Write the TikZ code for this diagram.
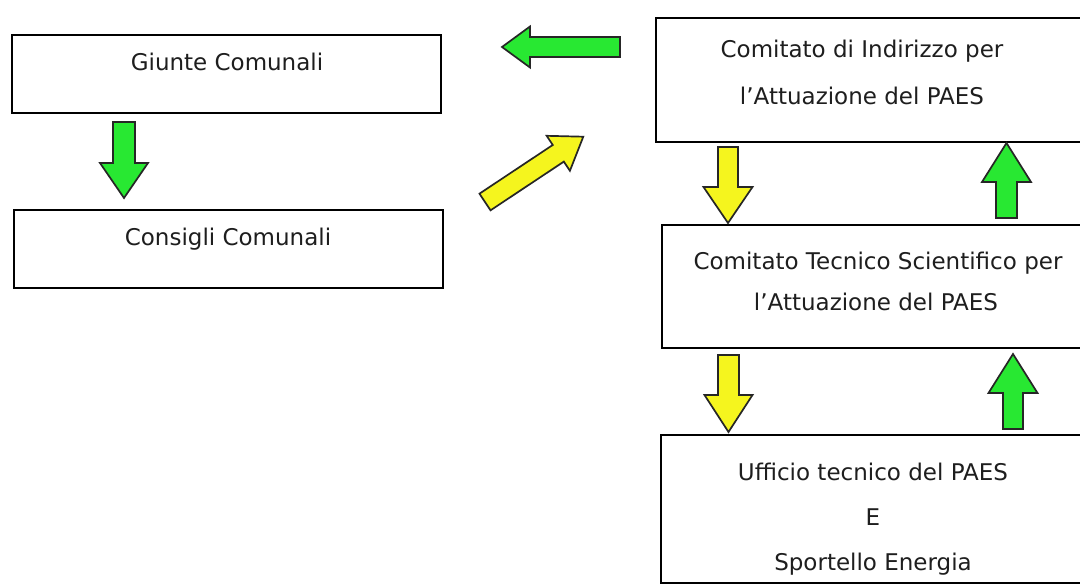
\documentclass[tikz,border=0pt]{standalone}
\usepackage{fontspec}
\setmainfont{DejaVu Sans}
\definecolor{arrgreen}{RGB}{40,232,50}
\definecolor{arryellow}{RGB}{245,245,30}
\definecolor{txtgray}{RGB}{30,30,30}
\tikzset{
  boxnode/.style={draw=black, line width=1.6pt, rectangle, inner sep=0pt, fill=white},
  lbl/.style={anchor=base, inner sep=0pt, text=txtgray, font=\fontsize{23}{27}\selectfont},
  arrowline/.style={draw=black!85, line width=1.7pt, line join=miter},
}
% \blkarrow{fill}{x}{y}{angle}{length}{shaft half width}{head half width}{head length}
\newcommand\blkarrow[8]{%
  \begin{scope}[shift={(#2,#3)}, rotate=#4]
    \filldraw[arrowline, fill=#1] (0,-#6) -- ({#5-#8},-#6) -- ({#5-#8},-#7) -- (#5,0)
      -- ({#5-#8},#7) -- ({#5-#8},#6) -- (0,#6) -- cycle;
  \end{scope}}
\begin{document}
\begin{tikzpicture}[x=1pt,y=-1pt]
\useasboundingbox (0,0) rectangle (1080,585);
\fill[white] (0,0) rectangle (1080,585);
\clip (0,0) rectangle (1080,585);

% boxes
\node[boxnode, minimum width=429pt, minimum height=78pt] (giunte) at (226.5,74) {};
\node[boxnode, minimum width=429pt, minimum height=78pt] (consigli) at (228.5,249) {};
\node[boxnode, minimum width=440pt, minimum height=124pt] (cdi) at (876,80) {};
\node[boxnode, minimum width=440pt, minimum height=123pt] (cts) at (882,286.5) {};
\node[boxnode, minimum width=440pt, minimum height=148pt] (ut) at (881,509) {};

% texts
\node[lbl] (tgiunte) at (227,71) {Giunte Comunali};
\node[lbl] (tconsigli) at (228,246) {Consigli Comunali};
\node[lbl] (tcdia) at (862,58) {Comitato di Indirizzo per};
\node[lbl] (tcdib) at (862,105) {l’Attuazione del PAES};
\node[lbl] (tctsa) at (878,270) {Comitato Tecnico Scientifico per};
\node[lbl] (tctsb) at (876,311) {l’Attuazione del PAES};
\node[lbl] (tuta) at (873,481) {Ufficio tecnico del PAES};
\node[lbl] (tutb) at (873,525) {E};
\node[lbl] (tutc) at (873,570) {Sportello Energia};

% block arrows
\blkarrow{arrgreen}{124}{122}{-90}{76}{11}{24}{35}
\blkarrow{arrgreen}{620}{47}{180}{118}{10}{20.5}{28}
\blkarrow{arryellow}{485}{202}{33.6}{118}{10}{21}{30}
\blkarrow{arryellow}{728}{147}{-90}{76}{10}{24.5}{36}
\blkarrow{arrgreen}{1006.5}{218}{90}{75}{10.5}{24.5}{39}
\blkarrow{arryellow}{728.5}{355}{-90}{77}{10.5}{24}{37}
\blkarrow{arrgreen}{1013}{429}{90}{75}{10}{24.5}{39}
\end{tikzpicture}
\end{document}
